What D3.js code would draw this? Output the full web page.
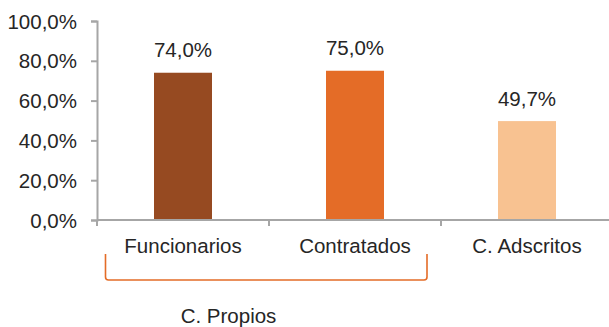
<!DOCTYPE html>
<html><head><meta charset="utf-8">
<script src="https://cdn.jsdelivr.net/npm/d3@7"></script>
<style>body{margin:0;background:#fff}svg{display:block}</style>
</head><body>
<script>
const categories = ["Funcionarios", "Contratados", "C. Adscritos"];
const values = [74.0, 75.0, 49.7];
const colors = ["#964a21", "#e46c27", "#f8c291"];
const yTicks = [0, 20, 40, 60, 80, 100];
const groupLabel = "C. Propios";
const groupMembers = ["Funcionarios", "Contratados"];

const W = 609, H = 327;
const fmt = v => v.toFixed(1).replace(".", ",") + "%";
const font = "'Liberation Sans', Arial, sans-serif";
const textColor = "#262626";
const axisColor = "#a6a6a6";

const svg = d3.select("body").append("svg").attr("width", W).attr("height", H);

const x = d3.scaleBand().domain(categories).range([97, 613]).paddingInner(0).paddingOuter(0);
const y = d3.scaleLinear().domain([0, 100]).range([220, 21]);
const barW = 58;

// y axis
const yAxis = svg.append("g").attr("transform", "translate(97,0)")
  .call(d3.axisLeft(y).tickValues(yTicks).tickFormat(d => fmt(d)).tickSize(6).tickPadding(14));
yAxis.select(".domain").attr("stroke", axisColor).attr("stroke-width", 2);
yAxis.selectAll(".tick line").attr("stroke", axisColor).attr("stroke-width", 2);
yAxis.selectAll(".tick text").attr("fill", textColor).style("font-family", font).style("font-size", "20.5px").attr("dy", "0.35em");

// bars
svg.selectAll("rect.bar").data(categories).enter().append("rect")
  .attr("class", "bar")
  .attr("x", d => x(d) + x.bandwidth() / 2 - barW / 2)
  .attr("width", barW)
  .attr("y", (d, i) => y(values[i]))
  .attr("height", (d, i) => y(0) - y(values[i]))
  .attr("fill", (d, i) => colors[i]);

// x axis
const xAxisG = svg.append("g").attr("transform", "translate(0,220)");
xAxisG.append("line").attr("x1", 97).attr("x2", 613).attr("y1", 0).attr("y2", 0)
  .attr("stroke", axisColor).attr("stroke-width", 2);
const bounds = categories.map(c => x(c)).concat([x(categories[categories.length - 1]) + x.bandwidth()]);
xAxisG.selectAll("line.tk").data(bounds).enter().append("line").attr("class", "tk")
  .attr("x1", d => d).attr("x2", d => d).attr("y1", 0).attr("y2", 6)
  .attr("stroke", axisColor).attr("stroke-width", 2);

// category labels
svg.selectAll("text.cat").data(categories).enter().append("text").attr("class", "cat")
  .attr("x", d => x(d) + x.bandwidth() / 2).attr("y", 253)
  .attr("text-anchor", "middle").attr("fill", textColor)
  .style("font-family", font).style("font-size", "20.5px").text(d => d);

// value labels
svg.selectAll("text.val").data(categories).enter().append("text").attr("class", "val")
  .attr("x", d => x(d) + x.bandwidth() / 2).attr("y", (d, i) => y(values[i]) - 15.5)
  .attr("text-anchor", "middle").attr("fill", textColor)
  .style("font-family", font).style("font-size", "20.5px").text((d, i) => fmt(values[i]));

// bracket
const bx1 = x(groupMembers[0]) + 8.5;
const bx2 = x(groupMembers[1]) + x.bandwidth() - 14;
const by1 = 254, by2 = 280, r = 3;
svg.append("path")
  .attr("d", `M${bx1},${by1} L${bx1},${by2 - r} Q${bx1},${by2} ${bx1 + r},${by2} L${bx2 - r},${by2} Q${bx2},${by2} ${bx2},${by2 - r} L${bx2},${by1}`)
  .attr("fill", "none").attr("stroke", "#e46c27").attr("stroke-width", 1.6);

svg.append("text").attr("x", 228.5).attr("y", 322.5).attr("text-anchor", "middle")
  .attr("fill", textColor).style("font-family", font).style("font-size", "20.5px").text(groupLabel);
</script>
</body></html>
